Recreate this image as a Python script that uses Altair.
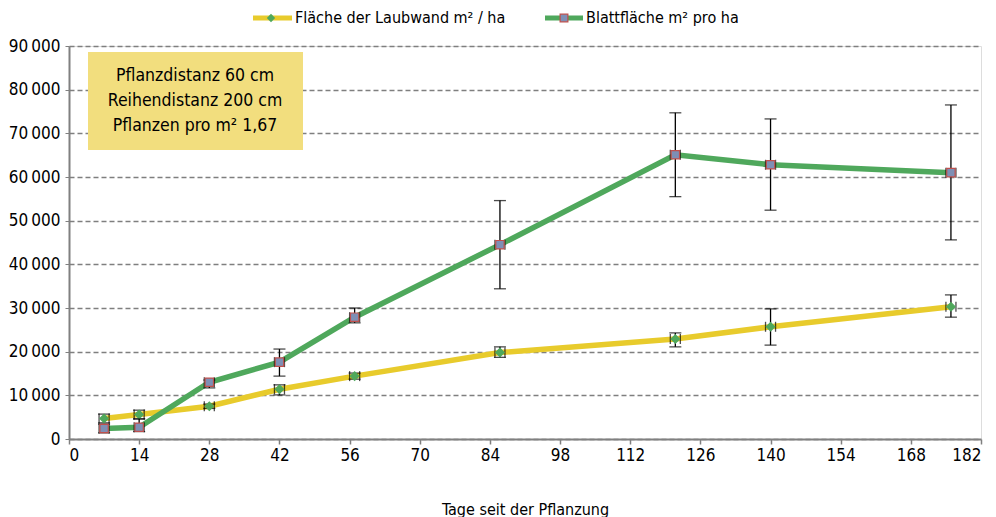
import altair as alt
import pandas as pd

days = [7, 14, 28, 42, 57, 86, 121, 140, 176]
laubwand = [4700, 5600, 7500, 11400, 14400, 19800, 22900, 25700, 30300]
laubwand_lo = [3700, 4600, 7000, 10100, 13700, 18700, 21100, 21500, 27900]
laubwand_hi = [5700, 6600, 8000, 12400, 15100, 21100, 24300, 29800, 33000]
blatt = [2400, 2700, 13000, 17600, 27900, 44500, 65100, 62800, 61000]
blatt_lo = [1400, 1700, 11700, 14400, 26600, 34400, 55500, 52400, 45600]
blatt_hi = [3400, 4600, 13500, 20600, 30000, 54600, 74700, 73300, 76500]

series_names = ["Fläche der Laubwand m² / ha", "Blattfläche m² pro ha"]
x_ticks = list(range(0, 183, 14))
y_ticks = list(range(0, 90001, 10000))
note_lines = ["Pflanzdistanz 60 cm", "Reihendistanz 200 cm", "Pflanzen pro m² 1,67"]
x_title = "Tage seit der Pflanzung"

FONT = "Liberation Sans Narrow, DejaVu Sans Condensed, Open Sans, sans-serif"
YELLOW = "#E8CB2C"
GREEN = "#4FA85C"

df_a = pd.DataFrame({"day": days, "value": laubwand, "lo": laubwand_lo, "hi": laubwand_hi})
df_a["dlo"] = df_a["day"] - 1
df_a["dhi"] = df_a["day"] + 1
df_b = pd.DataFrame({"day": days, "value": blatt, "lo": blatt_lo, "hi": blatt_hi})
df_b["dlo"] = df_b["day"] - 1
df_b["dhi"] = df_b["day"] + 1

xs = alt.Scale(domain=[0, 182], nice=False, zero=False)
ys = alt.Scale(domain=[0, 90000], nice=False)

x_axis = alt.Axis(values=x_ticks, title=x_title, grid=False, tickSize=5, tickColor="#808080",
                  domainColor="#808080", domainWidth=2, tickWidth=1.5, labelFontSize=17,
                  labelFont=FONT, titleFont=FONT, titleFontSize=16, titleFontWeight="normal",
                  titlePadding=38, labelPadding=3, labelColor="black", titleColor="black")
y_axis = alt.Axis(values=y_ticks, title=None, grid=True, gridDash=[5, 3], gridColor="#7f7f7f",
                  gridWidth=1.5, tickSize=4, tickColor="#808080", domainColor="#808080",
                  domainWidth=2, labelFontSize=17, labelFont=FONT, labelColor="black",
                  labelPadding=5,
                  labelExpr="replace(format(datum.value, ','), ',', '\u2009')")

X = lambda: alt.X("day:Q", scale=xs, axis=x_axis)
Y = lambda: alt.Y("value:Q", scale=ys, axis=y_axis)


def series(df, color, shape, fill, stroke):
    base = alt.Chart(df)
    line = base.mark_line(color=color, strokeWidth=5.5).encode(x=X(), y=Y())
    vbar = base.mark_rule(color="black", strokeWidth=1.3).encode(
        x=alt.X("day:Q", scale=xs), y=alt.Y("lo:Q", scale=ys), y2="hi:Q")
    cap_lo = base.mark_tick(color="black", orient="horizontal", size=12, thickness=1.3).encode(
        x=alt.X("day:Q", scale=xs), y=alt.Y("lo:Q", scale=ys))
    cap_hi = base.mark_tick(color="black", orient="horizontal", size=12, thickness=1.3).encode(
        x=alt.X("day:Q", scale=xs), y=alt.Y("hi:Q", scale=ys))
    xcap_lo = base.mark_tick(color="black", orient="vertical", size=10, thickness=1.3).encode(
        x=alt.X("dlo:Q", scale=xs), y=alt.Y("value:Q", scale=ys))
    xcap_hi = base.mark_tick(color="black", orient="vertical", size=10, thickness=1.3).encode(
        x=alt.X("dhi:Q", scale=xs), y=alt.Y("value:Q", scale=ys))
    pts = base.mark_point(shape=shape, filled=True, fill=fill, stroke=stroke, strokeWidth=1.2,
                          size=70, opacity=1).encode(x=X(), y=Y())
    return [line, vbar, cap_lo, cap_hi, xcap_lo, xcap_hi, pts]


layers = []
layers += series(df_a, YELLOW, "diamond", GREEN, GREEN)
layers += series(df_b, GREEN, "square", "#7E8FB5", "#C0504D")

one = pd.DataFrame({"a": [0]})

# annotation box
box = alt.Chart(one).mark_rect(color="#F2DE7E").encode(
    x=alt.value(19), x2=alt.value(234), y=alt.value(6), y2=alt.value(104))
layers.append(box)
for i, ln in enumerate(note_lines):
    layers.append(alt.Chart(one).mark_text(
        font=FONT, fontSize=17.5, align="center", baseline="middle", color="black"
    ).encode(x=alt.value(126), y=alt.value(30 + 25 * i), text=alt.value(ln)))

# legend
leg = [
    alt.Chart(one).mark_rule(color=YELLOW, strokeWidth=5).encode(
        x=alt.value(184), x2=alt.value(223), y=alt.value(-28)),
    alt.Chart(one).mark_point(shape="diamond", filled=True, fill=GREEN, size=70, opacity=1).encode(
        x=alt.value(202), y=alt.value(-28)),
    alt.Chart(one).mark_text(font=FONT, fontSize=16, align="left", baseline="middle", color="black").encode(
        x=alt.value(226), y=alt.value(-28), text=alt.value(series_names[0])),
    alt.Chart(one).mark_rule(color=GREEN, strokeWidth=5).encode(
        x=alt.value(476), x2=alt.value(514), y=alt.value(-28)),
    alt.Chart(one).mark_point(shape="square", filled=True, fill="#7E8FB5", stroke="#C0504D",
                              strokeWidth=1.2, size=60, opacity=1).encode(
        x=alt.value(495), y=alt.value(-28)),
    alt.Chart(one).mark_text(font=FONT, fontSize=16, align="left", baseline="middle", color="black").encode(
        x=alt.value(517), y=alt.value(-28), text=alt.value(series_names[1])),
]
layers += leg

chart = alt.layer(*layers).properties(
    width=912, height=393,
    autosize=alt.AutoSizeParams(type="none"),
    padding={"left": 61, "top": 38, "right": 7, "bottom": 78},
).configure_view(stroke=None).configure(background="white")

chart.save("out.html", embed_options={"renderer": "svg", "actions": False})
